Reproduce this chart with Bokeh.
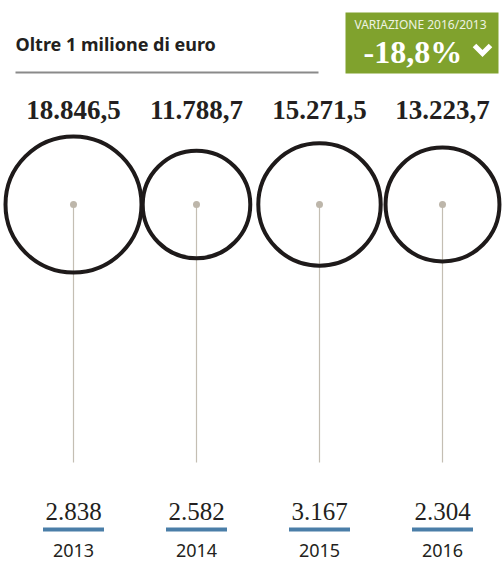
from bokeh.plotting import figure
from bokeh.models import Range1d, ColumnDataSource
from bokeh.core.properties import value
from bokeh.embed import file_html
from bokeh.resources import INLINE
import math

# ---- data ----
years = ["2013", "2014", "2015", "2016"]
amounts = [18846.5, 11788.7, 15271.5, 13223.7]          # circles (area)
amount_labels = ["18.846,5", "11.788,7", "15.271,5", "13.223,7"]
counts = [2838, 2582, 3167, 2304]
count_labels = ["2.838", "2.582", "3.167", "2.304"]
title = "Oltre 1 milione di euro"
badge_title = "VARIAZIONE 2016/2013"
badge_value = "-18,8%"

# ---- layout / style ----
W, H = 503, 562
X0, STEP = 73, 123
CY = 204
R_MAX = 68
LINE_END = 462

p = figure(width=W, height=H, output_backend="svg", toolbar_location=None,
           x_range=Range1d(0, W), y_range=Range1d(H, 0),
           x_axis_location=None, y_axis_location=None, min_border=0)
p.grid.visible = False
p.outline_line_color = None
p.background_fill_color = "white"
p.border_fill_color = "white"

xs = [X0 + i * STEP for i in range(len(years))]
mx = max(amounts)
radii = [R_MAX * math.sqrt(a / mx) for a in amounts]

src = ColumnDataSource(dict(x=xs, cy=[CY] * len(xs), r=radii,
                            y1=[CY] * len(xs), y2=[LINE_END] * len(xs),
                            amt=amount_labels, cnt=count_labels, yr=years))

# vertical connectors
p.segment(x0="x", y0="y1", x1="x", y1="y2", source=src,
          line_color="#c4beb3", line_width=1.2)
# circles
p.circle(x="x", y="cy", radius="r", source=src, fill_color=None,
         line_color="#1e1a1a", line_width=4)
# center dots
p.scatter(x="x", y="cy", size=7, source=src, fill_color="#bdb6aa",
          line_color=None)

# top amount labels
p.text(x="x", y=109, text="amt", source=src, text_align="center",
       text_baseline="middle", text_font=value("Liberation Serif"),
       text_font_style="bold", text_font_size="27px", text_color="#231f20")

# bottom count labels
p.text(x="x", y=511, text="cnt", source=src, text_align="center",
       text_baseline="middle", text_font=value("Liberation Serif"),
       text_font_size="25px", text_color="#231f20")
# blue bars under counts
p.rect(x="x", y=529, width=61, height=4, source=src,
       fill_color="#4a7ea8", line_color=None)
# year labels
p.text(x="x", y=549.5, text="yr", source=src, text_align="center",
       text_baseline="middle", text_font=value("Noto Sans"),
       text_font_size="18px", text_color="#231f20")

# title + rule
p.text(x=[15], y=[43.5], text=[title], text_align="left",
       text_baseline="middle", text_font=value("Noto Sans"),
       text_font_style="bold", text_font_size="18px", text_color="#231f20")
p.segment(x0=[15], y0=[72], x1=[318], y1=[72], line_color="#8a8a8a",
          line_width=2)

# badge
p.quad(left=[345], right=[498], top=[12], bottom=[73],
       fill_color="#80a22d", line_color=None)
p.text(x=[420], y=[24], text=[badge_title], text_align="center",
       text_baseline="middle", text_font=value("Noto Sans"),
       text_font_size="12px", text_color="#eef3e2")
p.text(x=[363], y=[51], text=[badge_value], text_align="left",
       text_baseline="middle", text_font=value("Liberation Serif"),
       text_font_style="bold", text_font_size="32px", text_color="white")
p.line(x=[474, 482, 490], y=[45, 53, 45], line_color="white",
       line_width=5, line_join="miter")

open("out.html", "w").write(file_html(p, INLINE))
